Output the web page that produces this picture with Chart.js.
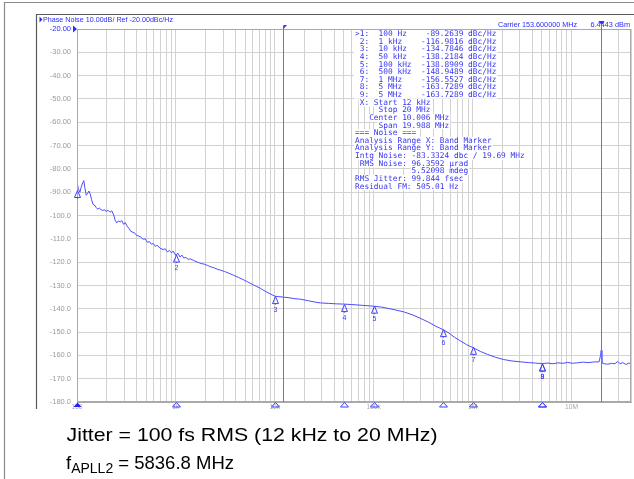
<!DOCTYPE html>
<html>
<head>
<meta charset="utf-8">
<script src="https://cdn.jsdelivr.net/npm/chart.js@4/dist/chart.umd.min.js"></script>
<style>
  html, body { margin: 0; padding: 0; background: #fff; }
  canvas { display: block; }
</style>
</head>
<body>
<canvas id="c" width="634" height="479"></canvas>
<script>
// ---------------- DATA ----------------
const freqHz = [
  100, 103, 107, 110, 113, 117, 120, 124, 128, 132, 136, 140, 145, 150, 156, 162, 168, 175, 182, 190,
  198, 207, 216, 225, 235, 243, 252, 262, 273, 284, 296, 308, 320, 335, 350, 369, 385, 400, 420, 440,
  467, 490, 515, 540, 565, 590, 620, 650, 690, 743, 780, 820, 860, 900, 940, 980, 1000, 1050, 1100, 1150,
  1200, 1260, 1330, 1400, 1500, 1600, 1700, 1800, 1950, 2080, 2250, 2450, 2650, 2810, 3100, 3450, 3810, 4300, 4800, 5280,
  5900, 6500, 7140, 8000, 9000, 10000, 11000, 12200, 14000, 16000, 18200, 22000, 26000, 29000, 35000, 42000, 49500, 60000, 75000, 99000,
  120000, 150000, 200000, 250000, 300000, 360000, 420000, 500000, 580000, 660000, 760000, 870000, 1000000, 1200000, 1420000, 1700000, 2070000, 2500000, 3080000, 3700000,
  4300000, 5000000, 5800000, 6500000, 7300000, 8200000, 9160000, 10200000, 11500000, 13000000, 15000000, 17000000, 19000000, 19700000, 20000000, 20300000, 21500000, 23300000, 25500000, 27500000,
  29400000, 31000000, 33000000, 35500000, 38000000, 40000000
];
const phaseNoise = [
  -85.5, -88.5, -90.0, -88.0, -86.5, -85.0, -88.0, -91.3, -90.5, -89.5, -90.8, -93.0, -95.2, -95.5, -96.5, -97.3, -96.8, -97.5, -97.8, -97.6,
  -98.2, -97.8, -98.6, -98.0, -99.8, -102.0, -103.2, -102.3, -102.8, -102.2, -103.8, -103.0, -104.5, -105.5, -106.8, -107.2, -107.6, -108.5, -108.8, -109.2,
  -110.2, -110.0, -111.5, -111.2, -112.3, -112.0, -113.2, -112.8, -114.0, -114.6, -114.3, -115.6, -115.0, -116.0, -115.3, -116.8, -117.0, -116.2, -117.8, -117.0,
  -118.2, -118.0, -118.8, -118.6, -119.2, -119.8, -120.2, -120.6, -120.9, -121.4, -122.0, -122.5, -123.1, -123.4, -124.0, -124.8, -125.6, -126.6, -127.5, -128.4,
  -129.5, -130.4, -131.2, -132.5, -133.6, -134.6, -134.8, -135.0, -135.3, -135.7, -135.9, -136.6, -137.2, -137.5, -137.7, -137.9, -138.0, -138.2, -138.5, -138.9,
  -139.3, -140.1, -141.3, -142.7, -144.2, -145.8, -147.4, -148.9, -150.5, -152.3, -153.9, -155.4, -156.6, -158.3, -159.6, -160.8, -161.8, -162.4, -162.8, -163.1,
  -163.3, -163.5, -163.3, -163.6, -163.2, -163.4, -163.0, -163.4, -163.2, -162.9, -163.1, -162.8, -162.8, -160.0, -157.8, -163.2, -163.6, -163.8, -163.4, -163.6,
  -162.6, -163.6, -163.1, -163.9, -163.3, -163.6
];
const markerNums  = ['1', '2', '3', '4', '5', '6', '7', '8', '9'];
const markerFreqs = [100, 1000, 10000, 50000, 100000, 500000, 1000000, 5000000, 5000000];
const markerVals  = [-89.2639, -116.9816, -134.7846, -138.2184, -138.8909, -148.9489, -156.5527, -163.7289, -163.7289];
const bandStartHz = 12000;
const bandStopHz  = 20000000;
const xTickValues = [100, 1000, 10000, 100000, 1000000, 10000000];
const xTickLabels = ['100', '1k', '10k', '100k', '1M', '10M'];
const yTickValues = [-20, -30, -40, -50, -60, -70, -80, -90, -100, -110, -120, -130, -140, -150, -160, -170, -180];
const yTickLabels = ['-20.00', '-30.00', '-40.00', '-50.00', '-60.00', '-70.00', '-80.00', '-90.00',
  '-100.0', '-110.0', '-120.0', '-130.0', '-140.0', '-150.0', '-160.0', '-170.0', '-180.0'];
const markerTable = [
  '>1:  100 Hz    -89.2639 dBc/Hz',
  ' 2:  1 kHz    -116.9816 dBc/Hz',
  ' 3:  10 kHz   -134.7846 dBc/Hz',
  ' 4:  50 kHz   -138.2184 dBc/Hz',
  ' 5:  100 kHz  -138.8909 dBc/Hz',
  ' 6:  500 kHz  -148.9489 dBc/Hz',
  ' 7:  1 MHz    -156.5527 dBc/Hz',
  ' 8:  5 MHz    -163.7289 dBc/Hz',
  ' 9:  5 MHz    -163.7289 dBc/Hz'
];
const noiseLines = [
  ' X: Start 12 kHz',
  '     Stop 20 MHz',
  '   Center 10.006 MHz',
  '     Span 19.988 MHz',
  '=== Noise ===',
  'Analysis Range X: Band Marker',
  'Analysis Range Y: Band Marker',
  'Intg Noise: -83.3324 dbc / 19.69 MHz',
  ' RMS Noise: 96.3592 \u00b5rad',
  '            5.52098 mdeg',
  'RMS Jitter: 99.844 fsec',
  'Residual FM: 505.01 Hz'
];
const titleText   = 'Phase Noise 10.00dB/ Ref -20.00dBc/Hz';
const carrierText = 'Carrier 153.600000 MHz';
const powerText   = '6.4443 dBm';
const captionLine1 = 'Jitter = 100 fs RMS (12 kHz to 20 MHz)';
const captionLine2 = ['f', 'APLL2', ' = 5836.8 MHz'];

// grid values (1..9 per decade)
const xGrid = [];
for (let d = 100; d <= 10000000; d *= 10) {
  for (let m = 1; m <= 9; m++) { const v = d * m; if (v <= 40000000) xGrid.push(v); }
}

// ---------------- DRAWING ----------------
const BLUE = '#3535f0';
const TRACE = '#4c4cff';

function fitText(c, text, x, y, w, font) {
  c.font = font;
  const m = c.measureText(text).width;
  c.save();
  c.translate(x, y);
  c.scale(w / m, 1);
  c.fillText(text, 0, 0);
  c.restore();
}

const bgPlugin = {
  id: 'bg',
  beforeDraw(chart) {
    const c = chart.ctx;
    c.save();
    c.fillStyle = '#fff';
    c.fillRect(0, 0, chart.width, chart.height);
    c.restore();
  }
};

const overlay = {
  id: 'overlay',
  afterDraw(chart) {
    const c = chart.ctx, xs = chart.scales.x, ys = chart.scales.y, a = chart.chartArea;
    c.save();
    // plot frame
    c.strokeStyle = '#a9a9a9'; c.lineWidth = 1;
    c.strokeRect(a.left + 0.5, a.top + 0.5, a.right - a.left - 1, a.bottom - a.top - 1);

    // outer borders
    c.strokeStyle = '#8a8a8a'; c.lineWidth = 1.2;
    c.beginPath(); c.moveTo(4.5, 479); c.lineTo(4.5, 2.5); c.lineTo(634, 2.5); c.stroke();
    c.strokeStyle = '#5a5a5a'; c.lineWidth = 1.2;
    c.beginPath(); c.moveTo(36.5, 409); c.lineTo(36.5, 14.5); c.lineTo(634, 14.5); c.stroke();

    // band marker lines
    c.strokeStyle = '#6a6aff'; c.lineWidth = 1;
    [bandStartHz, bandStopHz].forEach(f => {
      const x = Math.round(xs.getPixelForValue(f)) + 0.5;
      c.beginPath(); c.moveTo(x, a.top - 3); c.lineTo(x, a.bottom); c.stroke();
    });
    c.fillStyle = '#3030ff';
    {
      const x = Math.round(xs.getPixelForValue(bandStartHz)) + 0.5;
      c.beginPath(); c.moveTo(x, a.top - 4); c.lineTo(x + 3.5, a.top - 4); c.lineTo(x, a.top); c.closePath(); c.fill();
      const x2 = Math.round(xs.getPixelForValue(bandStopHz)) + 0.5;
      c.beginPath(); c.moveTo(x2 - 3, a.top - 8); c.lineTo(x2 + 3, a.top - 8); c.lineTo(x2, a.top - 4); c.closePath(); c.fill();
    }

    // title
    c.fillStyle = '#2b2bff';
    c.beginPath(); c.moveTo(39.5, 16.5); c.lineTo(42.5, 19.5); c.lineTo(39.5, 22.5); c.closePath(); c.fill();
    c.textBaseline = 'middle'; c.textAlign = 'left';
    fitText(c, titleText, 43, 19.5, 130, '7.5px "Liberation Sans"');
    fitText(c, carrierText, 498, 25, 79, '7.5px "Liberation Sans"');
    fitText(c, powerText, 590.5, 25, 39.5, '7.5px "Liberation Sans"');
    // reference level arrow
    const yRef = ys.getPixelForValue(-20);
    c.beginPath(); c.moveTo(73, yRef - 3.5); c.lineTo(77, yRef); c.lineTo(73, yRef + 3.5); c.closePath(); c.fill();

    // marker table
    const mono = '7.84px "DejaVu Sans Mono"';
    c.font = mono;
    const tx = 355, ty0 = 34, lh = 7.63;
    const tableW = Math.max(...markerTable.map(s => c.measureText(s).width));
    c.fillStyle = '#fff';
    c.fillRect(tx - 1, ty0 - 4, tableW + 2, lh * markerTable.length);
    noiseLines.forEach((s, i) => {
      const y = ty0 + lh * (markerTable.length + i);
      const trimmed = s.replace(/^ +/, '');
      const off = c.measureText(s.slice(0, s.length - trimmed.length)).width;
      c.fillRect(tx + off - 1, y - 4, c.measureText(trimmed).width + 2, lh);
    });
    c.fillStyle = BLUE;
    markerTable.concat(noiseLines).forEach((s, i) => {
      c.fillText(s, tx, ty0 + lh * i);
    });

    // markers on trace
    c.strokeStyle = '#4040ff'; c.lineWidth = 1;
    c.font = '7px "Liberation Sans"'; c.textAlign = 'center'; c.textBaseline = 'middle';
    markerFreqs.forEach((f, i) => {
      const x = Math.round(xs.getPixelForValue(f)) + 0.5;
      const y = ys.getPixelForValue(markerVals[i]);
      c.beginPath(); c.moveTo(x, y); c.lineTo(x + 3, y + 7); c.lineTo(x - 3, y + 7); c.closePath(); c.stroke();
      c.beginPath(); c.moveTo(x, y + 7); c.lineTo(x, y + 8); c.stroke();
      if (x > a.left + 3) { c.fillStyle = '#3838f0'; c.fillText(markerNums[i], x, y + 13); }
      // axis triangle
      const yb = a.bottom + 0.5;
      c.beginPath(); c.moveTo(x, yb); c.lineTo(x + 4, yb + 4.5); c.lineTo(x - 4, yb + 4.5); c.closePath();
      if (i === 0) { c.fillStyle = '#2020ff'; c.fill(); } else { c.stroke(); }
    });

    // caption
    c.fillStyle = '#000'; c.textAlign = 'left'; c.textBaseline = 'alphabetic';
    fitText(c, captionLine1, 66.5, 441, 371, '18.5px "Liberation Sans"');
    c.font = '18.5px "Liberation Sans"';
    c.fillText(captionLine2[0], 66, 469);
    const fw = c.measureText(captionLine2[0]).width;
    c.font = '14px "Liberation Sans"';
    c.fillText(captionLine2[1], 66 + fw, 472.5);
    const sw = c.measureText(captionLine2[1]).width;
    c.font = '18.5px "Liberation Sans"';
    c.fillText(captionLine2[2], 66 + fw + sw, 469);
    c.restore();
  }
};

new Chart(document.getElementById('c'), {
  type: 'line',
  data: {
    datasets: [{
      data: freqHz.map((f, i) => ({ x: f, y: phaseNoise[i] })),
      borderColor: TRACE,
      borderWidth: 1,
      pointRadius: 0,
      tension: 0,
      fill: false
    }]
  },
  options: {
    responsive: false,
    animation: false,
    devicePixelRatio: 1,
    layout: { padding: { top: 29, right: 3, left: 0, bottom: 0 } },
    plugins: { legend: { display: false }, tooltip: { enabled: false } },
    scales: {
      x: {
        type: 'logarithmic',
        min: 100,
        max: 40000000,
        afterBuildTicks: s => { s.ticks = xGrid.map(v => ({ value: v })); },
        afterFit: s => { s.height = 77; },
        grid: { color: '#d2d2d2', drawTicks: false, lineWidth: 1 },
        border: { color: '#a9a9a9' },
        ticks: {
          autoSkip: false, maxRotation: 0, minRotation: 0, padding: 1.5,
          color: '#a8a8a8',
          font: { family: 'Liberation Sans', size: 6.7 },
          callback: v => { const i = xTickValues.indexOf(v); return i >= 0 ? xTickLabels[i] : ''; }
        }
      },
      y: {
        type: 'linear',
        min: -180,
        max: -20,
        afterBuildTicks: s => { s.ticks = yTickValues.map(v => ({ value: v })); },
        afterFit: s => { s.width = 77; },
        grid: { color: '#d2d2d2', drawTicks: false, lineWidth: 1 },
        border: { color: '#a9a9a9' },
        ticks: {
          padding: 6,
          color: ctx => (ctx.tick && ctx.tick.value === -20) ? '#2b2bff' : '#9a9a9a',
          font: { family: 'Liberation Sans', size: 7.5 },
          callback: v => { const i = yTickValues.indexOf(v); return i >= 0 ? yTickLabels[i] : ''; }
        }
      }
    }
  },
  plugins: [bgPlugin, overlay]
});
</script>
</body>
</html>
